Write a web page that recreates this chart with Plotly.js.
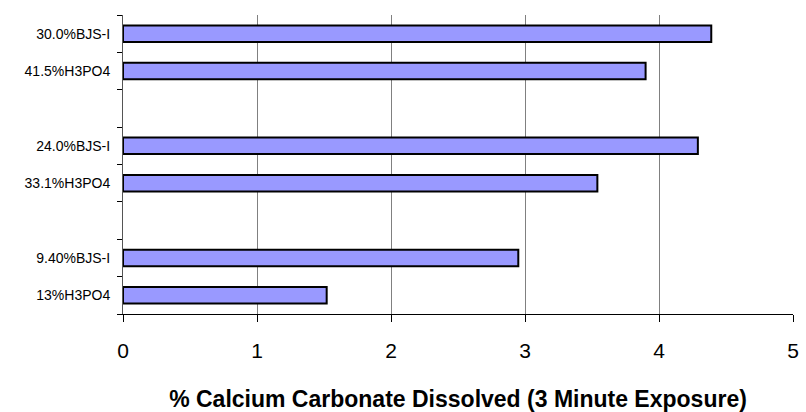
<!DOCTYPE html>
<html><head><meta charset="utf-8">
<script src="https://cdn.plot.ly/plotly-3.0.1.min.js"></script>
<style>html,body{margin:0;padding:0;background:#fff}</style>
</head><body>
<div id="chart" style="width:806px;height:412px"></div>
<script>
var categories = ["13%H3PO4", "9.40%BJS-I", " ", "33.1%H3PO4", "24.0%BJS-I", "  ", "41.5%H3PO4", "30.0%BJS-I"];
var values = [1.52, 2.95, null, 3.54, 4.29, null, 3.9, 4.39];
var xTicks = [0, 1, 2, 3, 4, 5];

Plotly.newPlot('chart', [{
  type: 'bar', orientation: 'h',
  y: categories, x: values,
  width: 0.44,
  marker: {color: '#9999FF', line: {color: '#000000', width: 2}},
  hoverinfo: 'none'
}], {
  width: 806, height: 412,
  margin: {l: 123, r: 13, t: 15, b: 98},
  paper_bgcolor: '#ffffff', plot_bgcolor: '#ffffff',
  showlegend: false,
  font: {family: 'Liberation Sans, Arial, sans-serif', color: '#000'},
  xaxis: {
    range: [0, 5], tickvals: xTicks, ticktext: xTicks.map(String),
    showgrid: true, gridcolor: '#808080', gridwidth: 1,
    zeroline: false, showline: true, linecolor: '#000', linewidth: 1,
    ticks: 'outside', ticklen: 7, tickcolor: '#000',
    ticklabelstandoff: 11,
    tickfont: {size: 21},
    title: {text: '<b>% Calcium Carbonate Dissolved (3 Minute Exposure)</b>', font: {size: 23}, standoff: 29}
  },
  yaxis: {
    type: 'category', categoryorder: 'array', categoryarray: categories,
    showgrid: false, zeroline: false, showline: true, linecolor: '#555', linewidth: 1,
    ticks: 'outside', ticklen: 5, tickcolor: '#000', tickson: 'boundaries',
    ticklabelstandoff: 9,
    tickfont: {size: 14}
  },
  bargap: 0.56
}, {displayModeBar: false, staticPlot: true});
</script>
</body></html>
